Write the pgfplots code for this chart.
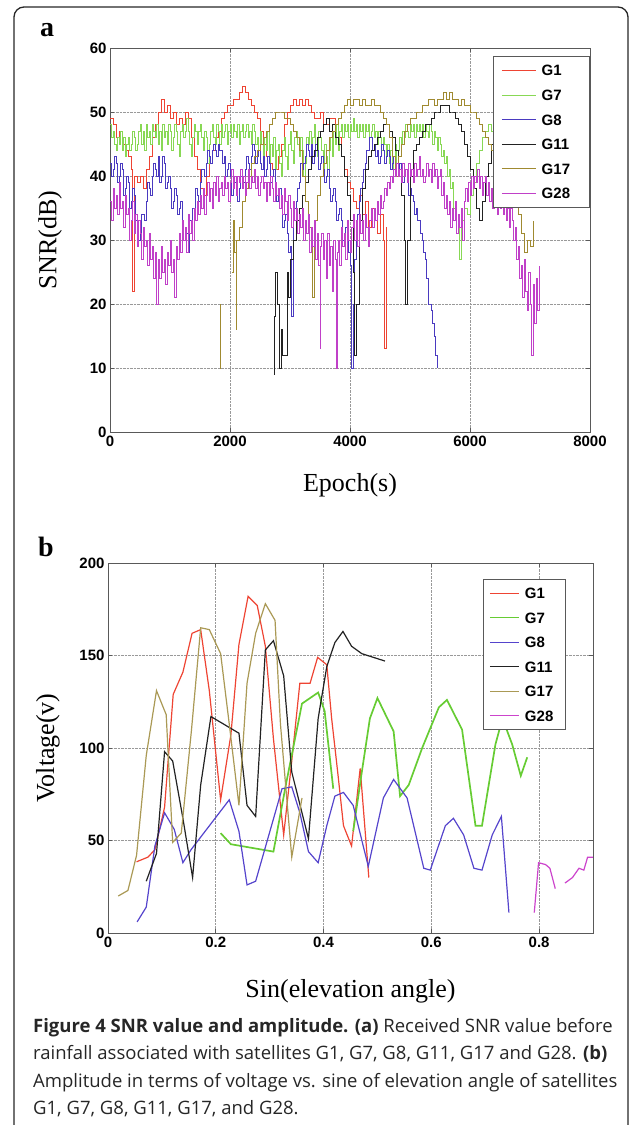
\documentclass[border=0pt]{standalone}
\usepackage{fontspec}
\usepackage{pgfplots}
\pgfplotsset{compat=1.18}
\setmainfont{Liberation Serif}
\newfontfamily\arialf{Liberation Sans}
\newfontfamily\capf{Open Sans}

\definecolor{aG1}{HTML}{EE4433}
\definecolor{aG7}{HTML}{88D855}
\definecolor{aG8}{HTML}{4A3AC0}
\definecolor{aG11}{HTML}{222222}
\definecolor{aG17}{HTML}{A08A30}
\definecolor{aG28}{HTML}{C040C8}
\definecolor{bG1}{HTML}{EE4433}
\definecolor{bG7}{HTML}{66CC33}
\definecolor{bG8}{HTML}{5544CC}
\definecolor{bG11}{HTML}{222222}
\definecolor{bG17}{HTML}{AA9955}
\definecolor{bG28}{HTML}{CC44CC}

\newcommand\tickfont{\fontsize{15}{15}\selectfont\arialf\bfseries}
\newcommand\labfont{\fontsize{26}{26}\selectfont\rmfamily}

\pgfplotsset{matlab/.style={
  scale only axis,
  axis line style={gray!70!black, line width=0.8pt},
  grid=major,
  major grid style={densely dotted, gray!80, line width=0.8pt},
  tick align=inside, major tick length=4pt,
  tick style={gray!70!black, line width=0.6pt},
  tick label style={font=\tickfont},
  /pgf/number format/assume math mode=true,
  /pgf/number format/set thousands separator={},
  scaled ticks=false,
  legend cell align=left,
  /tikz/every odd column/.append style={column sep=5pt},
}}

\begin{document}
\begin{tikzpicture}
\path[use as bounding box] (0pt,0pt) rectangle (632pt,-1125pt);
\draw[line width=1.3pt, black!85, rounded corners=10pt] (14pt,-1160pt) -- (14pt,-7pt) -- (628pt,-7pt) -- (628pt,-1160pt);

\node[font=\fontsize{28}{28}\selectfont\rmfamily\bfseries] at (47pt,-30pt) {a};
\node[font=\fontsize{28}{28}\selectfont\rmfamily\bfseries] at (46pt,-547pt) {b};

% ---------------- panel a ----------------
\begin{axis}[matlab,
  at={(110pt,-432pt)}, anchor=south west,
  width=480pt, height=384pt,
  xmin=0, xmax=8000, ymin=0, ymax=60,
  xtick={0,2000,...,8000}, ytick={0,10,...,60},
  xlabel={Epoch(s)}, ylabel={SNR(dB)},
  xlabel style={font=\labfont, at={(axis description cs:0.5,0)}, anchor=center, yshift=-53pt},
  ylabel style={font=\labfont, at={(axis description cs:0,0.5)}, anchor=center, yshift=60pt},
  legend style={at={(0.798,0.979)}, anchor=north west, draw=gray!70!black, line width=0.8pt,
    fill=white, inner xsep=8pt, inner ysep=8pt, row sep=12.6pt,
    nodes={inner sep=0.5pt, text height=11pt, text depth=0pt, font=\tickfont}},
  legend image code/.code={\draw[line width=0.8pt, #1] (0pt,0pt) -- (34pt,0pt);},
  every axis plot/.append style={line width=0.8pt, const plot},
]
\addplot[draw=aG1] coordinates {(0,49)(50,48)(100,46)(150,47)(200,45)(250,44)(300,43)(350,41)(380,22)(400,40)(450,39)(500,40)(550,38)(600,41)(650,43)(700,46)(750,48)(800,50)(850,52)(900,50)(950,51)(1000,49)(1050,50)(1100,48)(1150,49)(1200,48)(1250,50)(1300,49)(1350,46)(1400,43)(1450,41)(1500,38)(1550,37)(1600,40)(1650,42)(1700,44)(1750,46)(1800,47)(1850,49)(1900,50)(1950,51)(2000,51)(2050,52)(2100,52)(2150,53)(2200,54)(2250,53)(2300,52)(2350,51)(2400,50)(2450,49)(2500,47)(2550,45)(2600,43)(2650,42)(2700,41)(2750,41)(2800,43)(2850,45)(2900,48)(2950,50)(3000,51)(3050,52)(3100,51)(3150,52)(3200,51)(3250,52)(3300,51)(3350,50)(3400,49)(3450,49)(3500,50)(3550,48)(3600,48)(3650,49)(3700,49)(3750,48)(3800,46)(3850,43)(3900,41)(3950,39)(4000,38)(4050,36)(4100,35)(4150,37)(4200,34)(4250,36)(4300,32)(4350,35)(4400,33)(4450,31)(4500,34)(4550,30)(4575,13)(4600,32)};
\addlegendentry{\makebox[39pt][l]{G1}}
\addplot[draw=aG7] coordinates {(0,48)(25,46)(50,47)(75,45)(100,44)(125,46)(150,45)(175,47)(200,44)(225,46)(250,43)(275,45)(300,46)(325,44)(350,45)(375,47)(400,46)(425,44)(450,45)(475,47)(500,48)(525,45)(550,47)(575,44)(600,48)(625,46)(650,47)(675,45)(700,48)(725,47)(750,46)(775,48)(800,45)(825,47)(850,44)(875,48)(900,46)(925,47)(950,45)(975,48)(1000,47)(1025,44)(1050,46)(1075,48)(1100,47)(1125,45)(1150,43)(1175,47)(1200,48)(1225,46)(1250,47)(1275,49)(1300,47)(1325,45)(1350,43)(1375,46)(1400,48)(1425,47)(1450,45)(1475,47)(1500,48)(1525,46)(1550,44)(1575,47)(1600,46)(1625,42)(1650,45)(1675,47)(1700,48)(1725,46)(1750,45)(1775,48)(1800,47)(1825,45)(1850,48)(1875,46)(1900,47)(1925,48)(1950,45)(1975,47)(2000,48)(2025,46)(2050,48)(2075,47)(2100,46)(2125,48)(2150,45)(2175,47)(2200,48)(2225,46)(2250,47)(2275,48)(2300,46)(2325,47)(2350,45)(2375,48)(2400,47)(2425,45)(2450,46)(2475,44)(2500,47)(2525,45)(2550,43)(2575,46)(2600,44)(2625,47)(2650,42)(2675,45)(2700,43)(2725,46)(2750,41)(2775,44)(2800,45)(2825,42)(2850,40)(2875,44)(2900,46)(2925,43)(2950,41)(2975,45)(3000,47)(3025,44)(3050,42)(3075,46)(3100,47)(3125,45)(3150,43)(3175,46)(3200,44)(3225,40)(3250,42)(3275,46)(3300,45)(3325,47)(3350,43)(3375,46)(3400,48)(3425,45)(3450,43)(3475,47)(3500,46)(3525,44)(3550,41)(3575,45)(3600,43)(3625,40)(3650,44)(3675,46)(3700,43)(3725,47)(3750,45)(3775,48)(3800,44)(3825,47)(3850,48)(3875,46)(3900,48)(3925,47)(3950,48)(3975,46)(4000,48)(4025,47)(4050,49)(4075,47)(4100,48)(4125,46)(4150,48)(4175,47)(4200,48)(4225,46)(4250,48)(4275,47)(4300,48)(4325,46)(4350,47)(4375,48)(4400,46)(4425,47)(4450,45)(4475,47)(4500,46)(4525,44)(4550,46)(4575,45)(4600,43)(4625,45)(4650,42)(4675,44)(4700,41)(4725,43)(4750,45)(4775,42)(4800,44)(4825,46)(4850,45)(4875,47)(4900,46)(4925,48)(4950,47)(4975,46)(5000,48)(5025,47)(5050,48)(5075,46)(5100,48)(5125,47)(5150,48)(5175,47)(5200,48)(5225,46)(5250,48)(5275,47)(5300,46)(5325,48)(5350,47)(5375,45)(5400,47)(5425,46)(5450,44)(5475,46)(5500,45)(5525,43)(5550,44)(5575,42)(5600,43)(5625,40)(5650,41)(5675,38)(5700,39)(5725,35)(5750,36)(5775,31)(5800,32)(5820,27)(5850,33)(5900,35)(5950,34)(6000,37)(6050,39)(6100,42)(6150,44)(6200,46)(6250,47)(6300,48)(6350,47)(6400,48)(6450,47)};
\addlegendentry{\makebox[39pt][l]{G7}}
\addplot[draw=aG8] coordinates {(0,42)(25,40)(50,41)(75,43)(100,42)(125,39)(150,40)(175,42)(200,41)(225,37)(250,38)(275,40)(300,39)(325,35)(350,36)(375,38)(400,37)(425,33)(450,33)(475,30)(500,31)(525,34)(550,34)(575,33)(600,36)(625,39)(650,38)(675,37)(700,40)(725,42)(750,41)(775,40)(800,43)(825,39)(850,40)(875,43)(900,42)(925,38)(950,39)(975,40)(1000,38)(1025,35)(1050,36)(1075,38)(1100,37)(1125,34)(1150,35)(1175,36)(1200,33)(1225,30)(1250,30)(1275,31)(1300,28)(1325,33)(1350,32)(1375,35)(1400,35)(1425,38)(1450,37)(1475,36)(1500,39)(1525,41)(1550,41)(1575,40)(1600,42)(1625,44)(1650,43)(1675,42)(1700,44)(1725,45)(1750,44)(1775,43)(1800,45)(1825,44)(1850,44)(1875,42)(1900,43)(1925,40)(1950,41)(1975,42)(2000,40)(2025,37)(2050,38)(2075,39)(2100,37)(2125,36)(2150,38)(2175,40)(2200,40)(2225,39)(2250,41)(2275,43)(2300,42)(2325,41)(2350,43)(2375,45)(2400,44)(2425,42)(2450,43)(2475,44)(2500,42)(2525,41)(2550,43)(2575,40)(2600,41)(2625,43)(2650,42)(2675,39)(2700,40)(2725,41)(2750,39)(2775,36)(2800,37)(2825,38)(2850,35)(2875,32)(2900,33)(2925,34)(2950,31)(2975,28)(3000,29)(3030,18)(3050,33)(3075,35)(3100,36)(3125,38)(3150,39)(3175,42)(3200,41)(3225,42)(3250,43)(3275,45)(3300,44)(3325,43)(3350,45)(3375,42)(3400,43)(3425,45)(3450,44)(3475,41)(3500,42)(3525,43)(3550,41)(3575,39)(3600,40)(3625,41)(3650,38)(3675,36)(3700,37)(3725,38)(3750,36)(3775,33)(3800,34)(3825,35)(3850,33)(3875,30)(3900,31)(3925,32)(3950,30)(3975,28)(4000,26)(4030,10)(4050,20)(4075,27)(4100,30)(4125,34)(4150,36)(4175,38)(4200,39)(4225,41)(4250,42)(4275,44)(4300,44)(4325,46)(4350,46)(4375,44)(4400,45)(4425,43)(4450,44)(4475,42)(4500,43)(4525,45)(4550,44)(4575,42)(4600,43)(4625,44)(4650,43)(4675,41)(4700,42)(4725,43)(4750,42)(4775,40)(4800,41)(4825,42)(4850,41)(4875,39)(4900,40)(4925,41)(4950,39)(4975,37)(5000,38)(5025,37)(5050,36)(5075,34)(5100,35)(5125,33)(5150,33)(5175,31)(5200,30)(5225,28)(5250,27)(5275,24)(5300,20)(5325,20)(5350,19)(5375,17)(5400,15)(5425,12)(5450,10)};
\addlegendentry{\makebox[39pt][l]{G8}}
\addplot[draw=aG11] coordinates {(2730,9)(2735,18)(2760,25)(2790,20)(2830,10)(2850,16)(2880,12)(2950,25)(2980,21)(3000,27)(3050,30)(3100,33)(3150,35)(3200,37)(3250,39)(3300,41)(3350,43)(3400,44)(3450,46)(3500,47)(3550,48)(3600,49)(3650,47)(3700,48)(3750,46)(3800,45)(3850,43)(3900,40)(3950,37)(4000,33)(4050,25)(4080,12)(4100,20)(4150,33)(4200,38)(4250,41)(4300,43)(4350,44)(4400,45)(4450,46)(4500,47)(4550,48)(4600,48)(4650,47)(4700,46)(4750,44)(4800,41)(4850,37)(4900,30)(4920,20)(4950,30)(5000,40)(5050,44)(5100,45)(5150,46)(5200,47)(5250,48)(5300,48)(5350,49)(5400,50)(5450,50)(5500,51)(5550,51)(5600,51)(5650,50)(5700,50)(5750,49)(5800,48)(5850,47)(5900,45)(5950,43)(6000,41)(6050,38)(6100,35)(6150,33)(6200,36)(6250,40)(6300,42)(6350,45)(6400,46)(6450,47)(6500,48)};
\addlegendentry{\makebox[39pt][l]{G11}}
\addplot[draw=aG17] coordinates {(2030,25)(2050,33)(2080,28)(2100,16)(2110,30)(2150,32)(2200,36)(2250,38)(2300,40)(2350,42)(2400,43)(2450,44)(2500,45)(2550,46)(2600,47)(2650,48)(2700,49)(2750,50)(2800,50)(2850,50)(2900,49)(2950,49)(3000,48)(3050,47)(3100,46)(3150,44)(3200,40)(3250,36)(3300,32)(3350,30)(3380,21)(3400,33)(3450,37)(3500,40)(3550,42)(3600,44)(3650,46)(3700,47)(3750,48)(3800,49)(3850,50)(3900,51)(3950,52)(4000,51)(4050,52)(4100,52)(4150,51)(4200,52)(4250,51)(4300,51)(4350,52)(4400,51)(4450,51)(4500,50)(4550,49)(4600,48)(4650,46)(4700,43)(4750,40)(4800,43)(4850,45)(4900,47)(4950,48)(5000,49)(5050,49)(5100,50)(5150,50)(5200,51)(5250,51)(5300,52)(5350,52)(5400,51)(5450,52)(5500,52)(5550,53)(5600,52)(5650,53)(5700,52)(5750,52)(5800,51)(5850,52)(5900,51)(5950,51)(6000,50)(6050,50)(6100,49)(6150,48)(6200,47)(6250,46)(6300,45)(6350,44)(6400,42)(6500,41)(6600,40)(6700,38)(6800,34)(6850,31)(6900,28)(6950,30)(7000,29)(7050,33)};
\addlegendentry{\makebox[39pt][l]{G17}}
\addplot[draw=aG17, forget plot] coordinates {(1830,10)(1835,20)};
\addplot[draw=aG28] coordinates {(0,36)(25,33)(50,38)(75,35)(100,37)(125,34)(150,39)(175,35)(200,36)(225,32)(250,37)(275,34)(300,35)(325,30)(350,33)(375,36)(400,31)(425,34)(450,29)(475,33)(500,31)(525,27)(550,32)(575,29)(600,30)(625,26)(650,31)(675,27)(700,29)(725,24)(750,28)(770,20)(800,27)(825,24)(850,29)(875,25)(900,27)(925,23)(950,28)(975,26)(1000,30)(1025,25)(1050,27)(1075,21)(1100,29)(1125,27)(1150,31)(1175,28)(1200,33)(1225,30)(1250,32)(1275,28)(1300,34)(1325,31)(1350,33)(1375,30)(1400,35)(1425,33)(1450,36)(1475,34)(1500,37)(1525,35)(1550,38)(1575,34)(1600,37)(1625,39)(1650,36)(1675,38)(1700,35)(1725,39)(1750,37)(1775,40)(1800,36)(1825,38)(1850,39)(1875,37)(1900,40)(1925,38)(1950,39)(1975,36)(2000,39)(2025,41)(2050,38)(2075,40)(2100,37)(2125,40)(2150,39)(2175,41)(2200,38)(2225,40)(2250,37)(2275,39)(2300,41)(2325,38)(2350,40)(2375,39)(2400,41)(2425,38)(2450,40)(2475,37)(2500,39)(2525,40)(2550,38)(2575,39)(2600,36)(2625,39)(2650,37)(2675,40)(2700,38)(2725,36)(2750,39)(2775,37)(2800,38)(2825,35)(2850,37)(2875,34)(2900,38)(2925,36)(2950,33)(2975,37)(3000,35)(3025,32)(3050,36)(3075,33)(3100,35)(3125,31)(3150,34)(3175,32)(3200,35)(3225,30)(3250,33)(3275,31)(3300,34)(3325,28)(3350,32)(3375,29)(3400,33)(3425,27)(3450,31)(3475,26)(3500,13)(3510,29)(3525,31)(3550,27)(3575,30)(3600,24)(3625,31)(3650,26)(3675,29)(3700,22)(3725,30)(3750,27)(3775,10)(3790,28)(3800,30)(3825,26)(3850,32)(3875,29)(3900,31)(3925,27)(3950,33)(3975,30)(4000,28)(4025,32)(4050,34)(4075,30)(4100,33)(4125,29)(4150,34)(4175,31)(4200,33)(4225,30)(4250,34)(4275,32)(4300,29)(4325,33)(4350,35)(4375,32)(4400,35)(4425,33)(4450,36)(4475,34)(4500,37)(4525,35)(4550,36)(4575,38)(4600,37)(4625,39)(4650,38)(4675,40)(4700,39)(4725,41)(4750,40)(4775,42)(4800,40)(4825,41)(4850,39)(4875,42)(4900,40)(4925,41)(4950,39)(4975,42)(5000,40)(5025,41)(5050,39)(5075,42)(5100,40)(5125,41)(5150,43)(5175,40)(5200,41)(5225,39)(5250,40)(5275,42)(5300,40)(5325,41)(5350,39)(5375,42)(5400,40)(5425,41)(5450,38)(5475,40)(5500,41)(5525,37)(5550,39)(5575,35)(5600,37)(5625,34)(5650,36)(5675,32)(5700,35)(5725,33)(5750,36)(5775,31)(5800,34)(5825,32)(5850,35)(5875,30)(5900,36)(5925,38)(5950,36)(5975,39)(6000,37)(6025,40)(6050,38)(6075,40)(6100,39)(6125,41)(6150,38)(6175,40)(6200,37)(6225,39)(6250,40)(6275,37)(6300,39)(6325,36)(6350,38)(6375,35)(6400,38)(6425,36)(6450,34)(6475,37)(6500,35)(6525,38)(6550,34)(6575,36)(6600,33)(6625,35)(6650,32)(6675,35)(6700,33)(6725,30)(6750,32)(6775,27)(6800,29)(6825,24)(6850,26)(6875,21)(6900,27)(6925,22)(6950,19)(6975,25)(7000,20)(7025,12)(7050,23)(7075,17)(7100,24)(7125,19)(7150,26)};
\addlegendentry{\makebox[39pt][l]{G28}}
\end{axis}

% ---------------- panel b ----------------
\begin{axis}[matlab,
  at={(108pt,-933pt)}, anchor=south west,
  width=485pt, height=370pt,
  xmin=0, xmax=0.9, ymin=0, ymax=200,
  xtick={0,0.2,0.4,0.6,0.8}, ytick={0,50,...,200},
  xticklabel style={/pgf/number format/fixed, /pgf/number format/precision=1},
  xlabel={Sin(elevation angle)}, ylabel={Voltage(v)},
  xlabel style={font=\labfont, at={(axis description cs:0.5,0)}, anchor=center, yshift=-58pt},
  ylabel style={font=\labfont, at={(axis description cs:0,0.5)}, anchor=center, yshift=60pt},
  legend style={at={(0.773,0.957)}, anchor=north west, draw=gray!70!black, line width=0.8pt,
    fill=white, inner xsep=6pt, inner ysep=8pt, row sep=12.5pt,
    nodes={inner sep=0.5pt, text height=11pt, text depth=0pt, font=\tickfont}},
  legend image code/.code={\draw[line width=1.2pt, #1] (0pt,0pt) -- (29pt,0pt);},
  every axis plot/.append style={line width=1.2pt},
]
\addplot[draw=bG1] coordinates {(0.053,38.5)(0.074,41)(0.087,45)(0.105,68)(0.121,129)(0.139,141)(0.156,162)(0.172,164)(0.188,131)(0.209,72)(0.228,107)(0.243,156)(0.26,182)(0.277,177)(0.292,155)(0.307,105)(0.326,53)(0.341,93)(0.356,135)(0.375,135)(0.389,149)(0.406,145)(0.415,116)(0.427,85)(0.437,58)(0.452,47)(0.468,89)(0.484,30)};
\addlegendentry{\makebox[34pt][l]{G1}}
\addplot[draw=bG7, line width=1.7pt] coordinates {(0.209,54)(0.228,48)(0.307,44)(0.33,80)(0.36,124)(0.39,130)(0.402,120)(0.418,78)};
\addlegendentry{\makebox[34pt][l]{G7}}
\addplot[draw=bG7, line width=1.7pt, forget plot] coordinates {(0.455,55)(0.471,87)(0.486,116)(0.5,127)(0.53,109)(0.542,74)(0.558,80)(0.583,100)(0.614,122)(0.629,126)(0.657,110)(0.682,58)(0.694,58)(0.719,102)(0.732,116)(0.75,102)(0.766,85)(0.778,95)};
\addplot[draw=bG8] coordinates {(0.054,6)(0.071,14)(0.087,47)(0.105,65)(0.123,56)(0.139,38)(0.154,45)(0.225,72)(0.243,55)(0.258,26)(0.274,28)(0.323,78)(0.341,79)(0.356,65)(0.372,44)(0.39,38)(0.406,58)(0.421,74)(0.437,76)(0.455,69)(0.483,36)(0.511,73)(0.53,83)(0.555,73)(0.586,35)(0.598,34)(0.626,58)(0.641,62)(0.66,53)(0.679,35)(0.694,34)(0.713,53)(0.73,63)(0.744,11)};
\addlegendentry{\makebox[34pt][l]{G8}}
\addplot[draw=bG11] coordinates {(0.071,28)(0.09,43)(0.105,98)(0.12,93)(0.139,62)(0.157,30)(0.172,80)(0.191,117)(0.243,108)(0.258,69)(0.274,63)(0.292,153)(0.307,158)(0.326,139)(0.341,87)(0.372,51)(0.39,116)(0.406,144)(0.421,157)(0.436,163)(0.452,155)(0.471,151)(0.514,147)};
\addlegendentry{\makebox[34pt][l]{G11}}
\addplot[draw=bG17] coordinates {(0.019,20)(0.037,23)(0.053,42)(0.071,96)(0.09,131)(0.108,118)(0.12,49)(0.136,54)(0.155,110)(0.172,165)(0.188,164)(0.209,151)(0.225,113)(0.243,69)(0.258,135)(0.274,162)(0.292,178)(0.31,169)(0.32,113)(0.341,41)(0.36,73)};
\addlegendentry{\makebox[34pt][l]{G17}}
\addplot[draw=bG28] coordinates {(0.791,11)(0.799,38)(0.812,37)(0.82,35)(0.83,24)};
\addlegendentry{\makebox[34pt][l]{G28}}
\addplot[draw=bG28, forget plot] coordinates {(0.848,27)(0.862,30)(0.874,35)(0.883,34)(0.89,41)(0.9,41)};
\end{axis}

% ---------------- caption ----------------
\begin{scope}[every node/.style={anchor=base west, inner sep=0pt, font=\fontsize{18.5}{18.5}\selectfont\capf, text=black!85}]
\node at (33pt,-1032pt) {\textbf{Figure 4 SNR value and amplitude.} \textbf{(a)} Received SNR value before};
\node at (33pt,-1059.5pt) {rainfall associated with satellites G1, G7, G8, G11, G17 and G28. \textbf{(b)}};
\node at (33pt,-1087pt) {Amplitude in terms of voltage vs. sine of elevation angle of satellites};
\node at (33pt,-1114.5pt) {G1, G7, G8, G11, G17, and G28.};
\end{scope}
\end{tikzpicture}
\end{document}
